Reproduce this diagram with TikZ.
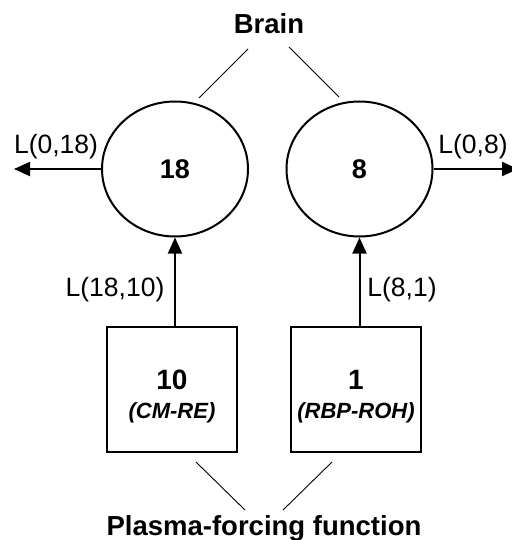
\documentclass[tikz,border=0pt]{standalone}
\usepackage{fontspec}
\setmainfont{Liberation Sans}
\usetikzlibrary{shapes.geometric,arrows.meta}
\begin{document}
\begin{tikzpicture}[x=1pt,y=-1pt,
  comp/.style={ellipse,draw,line width=2pt,minimum width=146pt,minimum height=135pt,inner sep=0pt,font=\fontsize{27}{30}\selectfont\bfseries},
  src/.style={rectangle,draw,line width=2pt,minimum width=130pt,minimum height=125pt,inner sep=0pt},
  title/.style={font=\fontsize{27.5}{30}\selectfont\bfseries},
  lab/.style={font=\fontsize{26.5}{30}\selectfont},
  flow/.style={line width=2pt,-{Triangle[length=16pt,width=14pt]}},
  thin/.style={line width=0.9pt}]
\useasboundingbox (0,0) rectangle (511,540);
\node[title] (brain) at (269,24) {Brain};
\node[comp] (c18) at (175,169) {18};
\node[comp] (c8) at (359.5,169) {8};
\node[src] (b10) at (172,389.5) {};
\node[src] (b1) at (356,389.5) {};
\node[font=\fontsize{28}{30}\selectfont\bfseries] (t10) at (172,380) {10};
\node[font=\fontsize{22}{26}\selectfont\bfseries\itshape] (n10) at (172,413) {(CM-RE)};
\node[font=\fontsize{28}{30}\selectfont\bfseries] (t1) at (356,380) {1};
\node[font=\fontsize{22}{26}\selectfont\bfseries\itshape] (n1) at (356,413) {(RBP-ROH)};
\node[title] (plasma) at (264,528) {Plasma-forcing function};
\coordinate (outL) at (14,169);
\coordinate (outR) at (518,169);
\draw[flow] (c18.west) -- (outL);
\draw[flow] (c8.east) -- (outR);
\draw[flow] (b10.north -| c18.south) -- (c18.south);
\draw[flow] (b1.north -| c8.south) -- (c8.south);
\node[lab] (l018) at (56,147) {L(0,18)};
\node[lab] (l08) at (473,147) {L(0,8)};
\node[lab] (l1810) at (115,290) {L(18,10)};
\node[lab] (l81) at (402,290) {L(8,1)};
\coordinate (bl1) at (248,49); \coordinate (bl2) at (199,98);
\coordinate (br1) at (289,47); \coordinate (br2) at (339,97);
\draw[thin] (bl1) -- (bl2);
\draw[thin] (br1) -- (br2);
\coordinate (pl1) at (196,462); \coordinate (pl2) at (245,510);
\coordinate (pr1) at (332,462); \coordinate (pr2) at (283,510);
\draw[thin] (pl1) -- (pl2);
\draw[thin] (pr1) -- (pr2);
\end{tikzpicture}
\end{document}
